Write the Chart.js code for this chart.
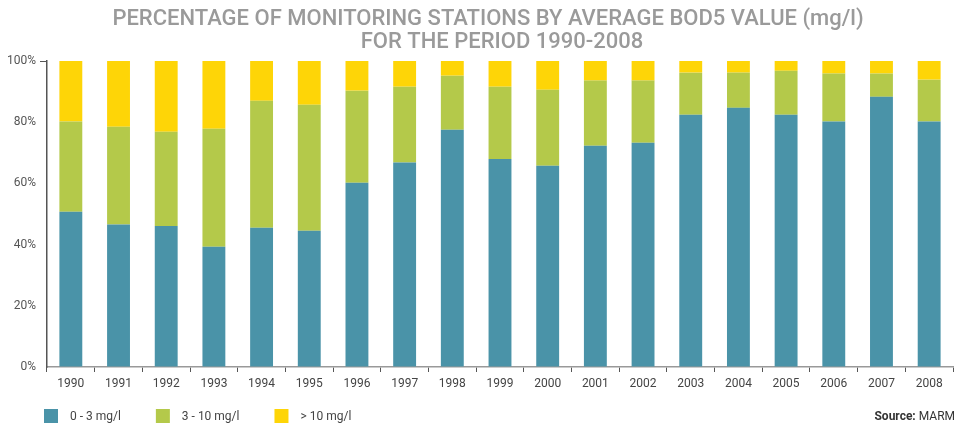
<!DOCTYPE html>
<html>
<head>
<meta charset="utf-8">
<script src="https://cdn.jsdelivr.net/npm/chart.js@4/dist/chart.umd.min.js"></script>
<style>
html,body{margin:0;padding:0;background:#fff;}
#wrap{position:relative;width:960px;height:425px;}
</style>
</head>
<body>
<div id="wrap"><canvas id="c" width="960" height="425"></canvas></div>
<script>
const titleLines = ['PERCENTAGE OF MONITORING STATIONS BY AVERAGE BOD5 VALUE (mg/l)', 'FOR THE PERIOD 1990-2008'];
const years = ['1990','1991','1992','1993','1994','1995','1996','1997','1998','1999','2000','2001','2002','2003','2004','2005','2006','2007','2008'];
const seriesNames = ['0 - 3 mg/l', '3 - 10 mg/l', '> 10 mg/l'];
const low = [50.7, 46.6, 46.1, 39.3, 45.5, 44.5, 60.2, 66.8, 77.5, 68.0, 65.8, 72.3, 73.3, 82.4, 84.7, 82.4, 80.2, 88.3, 80.2];
const mid = [29.5, 31.9, 30.8, 38.6, 41.5, 41.2, 30.1, 24.8, 17.7, 23.6, 24.8, 21.3, 20.3, 13.8, 11.5, 14.4, 15.7, 7.6, 13.7];
const high = [19.8, 21.5, 23.1, 22.1, 13.0, 14.3, 9.7, 8.4, 4.8, 8.4, 9.4, 6.4, 6.4, 3.8, 3.8, 3.2, 4.1, 4.1, 6.1];
const yTicks = [0, 20, 40, 60, 80, 100];
const sourceBold = 'Source:';
const sourceText = ' MARM';

const colors = ['#4a93a8', '#b4c94a', '#fed507'];
const FONT = 'Roboto, "DejaVu Sans", sans-serif';

const extras = {
  id: 'extras',
  afterDraw(chart) {
    const ctx = chart.ctx;
    const ca = chart.chartArea;
    ctx.save();
    // title
    ctx.fillStyle = '#9a9a9a';
    ctx.font = '500 22px ' + FONT;
    ctx.textAlign = 'center';
    ctx.textBaseline = 'alphabetic';
    const cx = (ca.left + ca.right) / 2 - 12;
    ctx.fillText(titleLines[0], cx, 25);
    ctx.fillText(titleLines[1], cx + 14, 48);
    // legend
    ctx.textAlign = 'left';
    ctx.textBaseline = 'middle';
    ctx.font = '12px ' + FONT;
    let x = 44;
    chart.data.datasets.forEach((ds) => {
      ctx.fillStyle = ds.backgroundColor;
      ctx.fillRect(x, 409, 14, 14);
      ctx.fillStyle = '#444';
      ctx.fillText(ds.label, x + 26, 417);
      x += 26 + ctx.measureText(ds.label).width + 35;
    });
    // source
    ctx.textAlign = 'right';
    ctx.font = '12px ' + FONT;
    const w2 = ctx.measureText(sourceText).width;
    ctx.fillStyle = '#333';
    ctx.fillText(sourceText, 955, 417);
    ctx.font = 'bold 12px ' + FONT;
    ctx.fillText(sourceBold, 955 - w2, 417);
    ctx.restore();
  }
};

new Chart(document.getElementById('c'), {
  type: 'bar',
  data: {
    labels: years,
    datasets: [
      { label: seriesNames[0], data: low, backgroundColor: colors[0] },
      { label: seriesNames[1], data: mid, backgroundColor: colors[1] },
      { label: seriesNames[2], data: high, backgroundColor: colors[2] }
    ]
  },
  options: {
    responsive: false,
    animation: false,
    layout: { padding: { top: 61, right: 7, bottom: 34, left: 0 } },
    datasets: { bar: { categoryPercentage: 1, barPercentage: 0.48 } },
    plugins: {
      legend: { display: false },
      title: { display: false },
      tooltip: { enabled: false }
    },
    scales: {
      x: {
        stacked: true,
        offset: true,
        grid: { offset: true, drawOnChartArea: false, tickLength: 5, tickColor: '#555', lineWidth: 1 },
        border: { color: '#999', width: 1.5 },
        ticks: { color: '#444', font: { family: FONT, size: 12 }, padding: 5, maxRotation: 0, autoSkip: false },
        afterFit(scale) { scale.height = 24; }
      },
      y: {
        stacked: true,
        min: 0,
        max: 100,
        afterBuildTicks(scale) { scale.ticks = yTicks.map(v => ({ value: v })); },
        grid: {
          drawOnChartArea: false,
          tickLength: 7,
          tickColor: (c) => (c.tick && (c.tick.value === 100)) ? '#555' : 'rgba(0,0,0,0)'
        },
        border: { color: '#555', width: 1.5 },
        ticks: { color: '#555', font: { family: FONT, size: 12 }, padding: 4, callback: (v) => v + '%' },
        afterFit(scale) { scale.width = 47; }
      }
    }
  },
  plugins: [extras]
});
</script>
</body>
</html>
